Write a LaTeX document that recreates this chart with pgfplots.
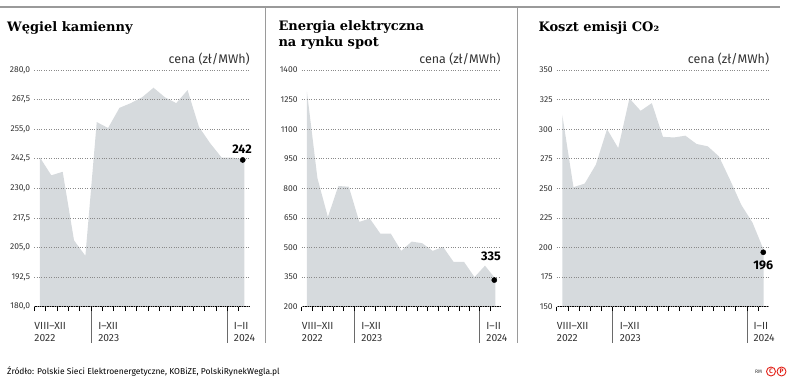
\documentclass[border=0pt]{standalone}
\usepackage{pgfplots}
\pgfplotsset{compat=1.18}
\usepackage{fontspec}
\setmainfont{Fira Sans}
\newfontfamily\titlefont{DejaVu Serif}
\definecolor{areagray}{HTML}{D6DADD}
\definecolor{gridgray}{HTML}{8A8A8A}
\definecolor{linegray}{HTML}{9A9A9A}
\definecolor{txtgray}{HTML}{333333}
\definecolor{seprgray}{HTML}{6A6A6A}
\definecolor{logored}{HTML}{E2231A}
\pgfplotsset{
  panel/.style={
    scale only axis, anchor=south west,
    height=236.7pt,
    xmin=0, xmax=19,
    axis line style={draw=none},
    xtick={0,...,18}, xticklabels={},
    xtick pos=left, xtick align=outside,
    major x tick style={black, line width=0.6pt},
    major tick length=4.5pt,
    ytick pos=left, ytick align=inside,
    major y tick style={draw=none},
    ymajorgrids,
    major y grid style={dash pattern=on 0.8pt off 1.6pt, gridgray, line width=0.7pt},
    yticklabel style={font=\fontsize{8.5}{10}\selectfont, color=txtgray, inner sep=0pt, xshift=-4pt},
    axis on top, clip=false,
  },
  area/.style={fill=areagray, draw=none},
  dot/.style={only marks, mark=*, mark size=2.6pt, black},
}
\newcommand{\xlab}[3]{%
  \node[anchor=base west, inner sep=0pt, font=\fontsize{10.3}{11}\selectfont, color=txtgray] at ([xshift=#1, yshift=-22.8pt]axis cs:#2) {#3};}
\newcommand{\xlabb}[3]{%
  \node[anchor=base west, inner sep=0pt, font=\fontsize{10.3}{11}\selectfont, color=txtgray] at ([xshift=#1, yshift=-35pt]axis cs:#2) {#3};}
\newcommand{\sepr}[1]{\draw[seprgray, line width=0.7pt] (axis cs:#1) -- ([yshift=-36.3pt]axis cs:#1);}
\newcommand{\cena}{\node[anchor=base east, inner sep=0pt, font=\fontsize{12.5}{14}\selectfont, color=txtgray] at ([yshift=6pt]rel axis cs:1,1) {cena (zł/MWh)};}
\begin{document}
\begin{tikzpicture}
\useasboundingbox (0,0) rectangle (788pt,382pt);
% frame lines
\draw[linegray, line width=2pt] (0,374.5pt) -- (780pt,374.5pt);
\draw[linegray, line width=1pt] (265pt,374pt) -- (265pt,39pt);
\draw[linegray, line width=1pt] (517pt,374pt) -- (517pt,39pt);
% titles
\node[anchor=base west, inner sep=0pt, font=\titlefont\bfseries\fontsize{13}{15.5}\selectfont] at (7pt,350.3pt) {Węgiel kamienny};
\node[anchor=base west, inner sep=0pt, font=\titlefont\bfseries\fontsize{13}{15.5}\selectfont] at (278.3pt,351.3pt) {Energia elektryczna};
\node[anchor=base west, inner sep=0pt, font=\titlefont\bfseries\fontsize{13}{15.5}\selectfont] at (278.3pt,335.5pt) {na rynku spot};
\node[anchor=base west, inner sep=0pt, font=\titlefont\bfseries\fontsize{13}{15.5}\selectfont] at (538.3pt,350.3pt) {Koszt emisji CO₂};

% ---------- Panel 1: coal ----------
\begin{axis}[panel, at={(34.3pt,75.3pt)}, width=215.7pt,
  ymin=180, ymax=280,
  ytick={180,192.5,205,217.5,230,242.5,255,267.5,280},
  yticklabels={{180,0},{192,5},{205,0},{217,5},{230,0},{242,5},{255,0},{267,5},{280,0}}]
\addplot[area] coordinates {
(0.5,180) (0.5,243) (1.5,235.5) (2.5,237) (3.5,208) (4.5,201.5)
(5.5,258) (6.5,255.5) (7.5,264) (8.5,266) (9.5,268.5) (10.5,272.5)
(11.5,268.5) (12.5,266) (13.5,271.5) (14.5,256) (15.5,249) (16.5,243)
(17.5,243) (18.5,242) (18.5,180)};
\draw[black, line width=1.4pt] (axis cs:0,180) -- (axis cs:19,180);
\sepr{5,180}
\sepr{17,180}
\addplot[dot] coordinates {(18.36,242)};
\node[anchor=base, inner sep=0pt, font=\bfseries\fontsize{12.5}{14}\selectfont] at ([yshift=6pt]axis cs:18.3,242) {242};
\xlab{0pt}{0,180}{VIII–XII}
\xlabb{0pt}{0,180}{2022}
\xlab{7pt}{5,180}{I–XII}
\xlabb{7pt}{5,180}{2023}
\xlab{6.5pt}{17,180}{I–II}
\xlabb{6.5pt}{17,180}{2024}
\cena
\end{axis}

% ---------- Panel 2: electricity ----------
\begin{axis}[panel, at={(301.7pt,75.3pt)}, width=199pt,
  ymin=200, ymax=1400,
  ytick={200,350,500,650,800,950,1100,1250,1400},
  yticklabels={200,350,500,650,800,950,1100,1250,1400}]
\addplot[area] coordinates {
(0.5,200) (0.5,1290) (1.5,852) (2.5,655) (3.5,812) (4.5,808)
(5.5,630) (6.5,647) (7.5,571) (8.5,571) (9.5,483) (10.5,530)
(11.5,522) (12.5,483) (13.5,503) (14.5,427) (15.5,427) (16.5,350)
(17.5,408) (18.5,342) (18.5,200)};
\draw[black, line width=1.4pt] (axis cs:0,200) -- (axis cs:19,200);
\sepr{5,200}
\sepr{17,200}
\addplot[dot] coordinates {(18.39,335)};
\node[anchor=base, inner sep=0pt, font=\bfseries\fontsize{12.5}{14}\selectfont] at ([yshift=19.4pt]axis cs:18.07,335) {335};
\xlab{0pt}{0,200}{VIII–XII}
\xlabb{0pt}{0,200}{2022}
\xlab{7pt}{5,200}{I–XII}
\xlabb{7pt}{5,200}{2023}
\xlab{6.5pt}{17,200}{I–II}
\xlabb{6.5pt}{17,200}{2024}
\cena
\end{axis}

% ---------- Panel 3: CO2 ----------
\begin{axis}[panel, at={(556.7pt,75.3pt)}, width=212.6pt,
  ymin=150, ymax=350,
  ytick={150,175,200,225,250,275,300,325,350},
  yticklabels={150,175,200,225,250,275,300,325,350}]
\addplot[area] coordinates {
(0.5,150) (0.5,312) (1.5,251) (2.5,254) (3.5,270) (4.5,300)
(5.5,284) (6.5,326) (7.5,315.5) (8.5,322) (9.5,293.5) (10.5,293)
(11.5,294.5) (12.5,287.5) (13.5,285.5) (14.5,277) (15.5,257) (16.5,236)
(17.5,221) (18.5,198) (18.5,150)};
\draw[black, line width=1.4pt] (axis cs:0,150) -- (axis cs:19,150);
\sepr{5,150}
\sepr{17,150}
\addplot[dot] coordinates {(18.46,196)};
\node[anchor=base, inner sep=0pt, font=\bfseries\fontsize{12.5}{14}\selectfont] at ([yshift=-17.7pt]axis cs:18.46,196) {196};
\xlab{0pt}{0,150}{VIII–XII}
\xlabb{0pt}{0,150}{2022}
\xlab{7pt}{5,150}{I–XII}
\xlabb{7pt}{5,150}{2023}
\xlab{6.5pt}{17,150}{I–II}
\xlabb{6.5pt}{17,150}{2024}
\cena
\end{axis}

% footer
\node[anchor=base west, inner sep=0pt, font=\fontsize{8.5}{10}\selectfont, color=black] at (7pt,7pt) {Źródło: Polskie Sieci Elektroenergetyczne, KOBiZE, PolskiRynekWegla.pl};
\node[anchor=base west, inner sep=0pt, font=\fontsize{5}{6}\selectfont, color=txtgray] at (755pt,8pt) {RM};
\draw[logored, line width=0.9pt] (771pt,10.5pt) circle (4.5pt);
\draw[logored, line width=0.9pt] (781.5pt,10.5pt) circle (4.5pt);
\node[inner sep=0pt, logored, font=\bfseries\fontsize{6.5}{7}\selectfont] at (771pt,10.5pt) {C};
\node[inner sep=0pt, logored, font=\bfseries\fontsize{6.5}{7}\selectfont] at (781.5pt,10.5pt) {P};
\end{tikzpicture}
\end{document}
